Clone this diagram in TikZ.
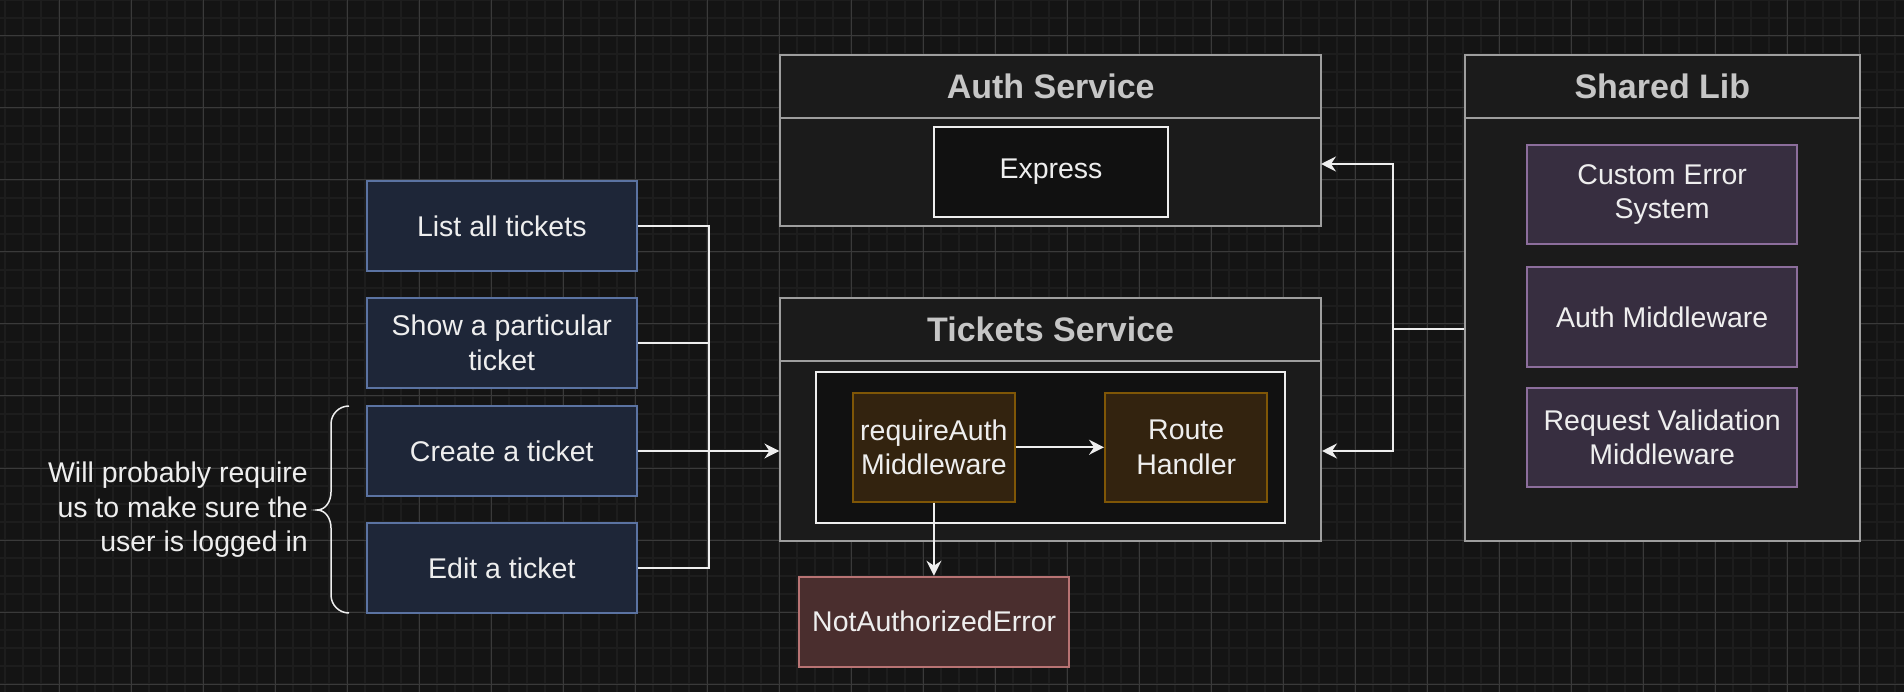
\documentclass[tikz,border=0pt]{standalone}
\usepackage{fontspec}
\setmainfont{Liberation Sans}
\usetikzlibrary{
    arrows.meta
}
\definecolor{canvas}{HTML}{141414}
\definecolor{gridminor}{HTML}{1D1D1D}
\definecolor{gridmajor}{HTML}{3A3A3A}
\definecolor{lanefill}{HTML}{1B1B1B}
\definecolor{laneline}{HTML}{9E9E9E}
\definecolor{titlegrey}{HTML}{C6C6C6}
\definecolor{inkwhite}{HTML}{EEEEEE}
\definecolor{blackfill}{HTML}{111111}
\definecolor{navyfill}{HTML}{1E2638}
\definecolor{navyline}{HTML}{5B73A2}
\definecolor{brownfill}{HTML}{33230F}
\definecolor{brownline}{HTML}{7F5606}
\definecolor{redfill}{HTML}{4A2E2E}
\definecolor{redline}{HTML}{B87373}
\definecolor{plumfill}{HTML}{372E40}
\definecolor{plumline}{HTML}{8C6E9C}

\begin{document}
\begin{tikzpicture}[x=1pt,y=-1pt,
    body/.style={font=\fontsize{28.5}{34.5}\selectfont, text=inkwhite, align=center},
    card/.style={body, draw, line width=2pt, inner sep=0pt, minimum width=270.5pt, minimum height=90pt},
    request/.style={card, fill=navyfill, draw=navyline},
    lib/.style={card, fill=plumfill, draw=plumline, minimum height=99.5pt},
    stage/.style={card, fill=brownfill, draw=brownline, minimum width=162.3pt, minimum height=108.7pt},
    lane/.style={draw=laneline, fill=lanefill, line width=2pt, inner sep=0pt},
    lanerule/.style={draw=laneline, line width=2pt},
    lanetitle/.style={font=\fontsize{34}{40}\selectfont\bfseries, text=titlegrey},
    wire/.style={draw=inkwhite, line width=2pt},
    flow/.style={wire, -{Stealth[length=15pt,width=15pt,inset=5pt]}}
]
\useasboundingbox (0,0) rectangle (1904,692);
\fill[canvas] (0,0) rectangle (1904,692);
%\draw [help lines](0,0) grid (1904,692);
\foreach \gx in {0,...,105}
    \draw[gridminor, line width=2pt] ({5.33+18*\gx},0) -- ({5.33+18*\gx},692);
\foreach \gy in {0,...,38}
    \draw[gridminor, line width=2pt] (0,{18*\gy}) -- (1904,{18*\gy});
\foreach \gx in {0,...,25}
    \draw[gridmajor, line width=1pt] ({59.33+72*\gx},0) -- ({59.33+72*\gx},692);
\foreach \gy in {0,...,9}
    \draw[gridmajor, line width=1pt] (0,{36+72*\gy}) -- (1904,{36+72*\gy});

% requests
\node[request] (list) at (501.8,226) {List all tickets};
\node[request] (show) at (501.8,343) {Show a particular\\ticket};
\node[request] (create) at (501.8,451) {Create a ticket};
\node[request] (edit) at (501.8,568) {Edit a ticket};
\node[body, anchor=east, align=right, inner sep=0pt] (note) at (308,510) {Will probably require\\us to make sure the\\user is logged in};
\draw[wire, line width=1.5pt] (349,406) to[out=180,in=90] (331,424) -- (331,492)
    to[out=270,in=0] (317,510) to[out=0,in=90] (331,528) -- (331,595)
    to[out=270,in=180] (349,613);

% auth service
\node[lane, minimum width=540.6pt, minimum height=170.7pt] (auth) at (1050.7,140.35) {};
\coordinate (authhead) at (1050.7,117.7);
\draw[lanerule] (auth.west |- authhead) -- (auth.east |- authhead);
\node[lanetitle] (authtitle) at (1050.7,86.4) {Auth Service};
\node[card, fill=blackfill, draw=inkwhite, minimum width=234pt, minimum height=90.3pt] (express) at (1051,171.9) {Express};

% tickets service
\node[lane, minimum width=540.6pt, minimum height=243pt] (tickets) at (1050.7,419.2) {};
\coordinate (ticketshead) at (1050.7,360.7);
\draw[lanerule] (tickets.west |- ticketshead) -- (tickets.east |- ticketshead);
\node[lanetitle] (ticketstitle) at (1050.7,329.2) {Tickets Service};
\node[draw=inkwhite, fill=blackfill, line width=2pt, inner sep=0pt, minimum width=469pt, minimum height=151pt] (router) at (1050.8,447.2) {};
\node[stage] (require) at (933.9,447.3) {requireAuth\\Middleware};
\node[stage] (handler) at (1186.2,447.3) {Route\\Handler};
\node[card, fill=redfill, draw=redline] (error) at (934.2,621.7) {NotAuthorizedError};

% shared lib
\node[lane, minimum width=395.3pt, minimum height=485.7pt] (shared) at (1662.35,297.85) {};
\coordinate (sharedhead) at (1662.35,118);
\draw[lanerule] (shared.west |- sharedhead) -- (shared.east |- sharedhead);
\node[lanetitle] (sharedtitle) at (1662.35,86.6) {Shared Lib};
\node[lib] (errors) at (1662.2,194.3) {Custom Error\\System};
\node[lib] (authmw) at (1662.2,317) {Auth Middleware};
\node[lib] (validate) at (1662.2,437.3) {Request Validation\\Middleware};

% connectors
\coordinate (merge) at (709.4,451);
\draw[wire] (list.east) -| (merge);
\draw[wire] (show.east) -| (merge);
\draw[wire] (edit.east) -| (merge);
\draw[flow] (create.east) -- (create -| tickets.west);
\draw[flow] (require) -- (handler);
\draw[flow] (require.south) -- (require.south |- error.north);
\coordinate (split) at (1392.7,329.5);
\coordinate (authport) at (1321,164);
\draw[wire] (shared.west |- split) -- (split);
\draw[flow] (split) |- (authport);
\draw[flow] (split) |- (create -| tickets.east);
\end{tikzpicture}
\end{document}
